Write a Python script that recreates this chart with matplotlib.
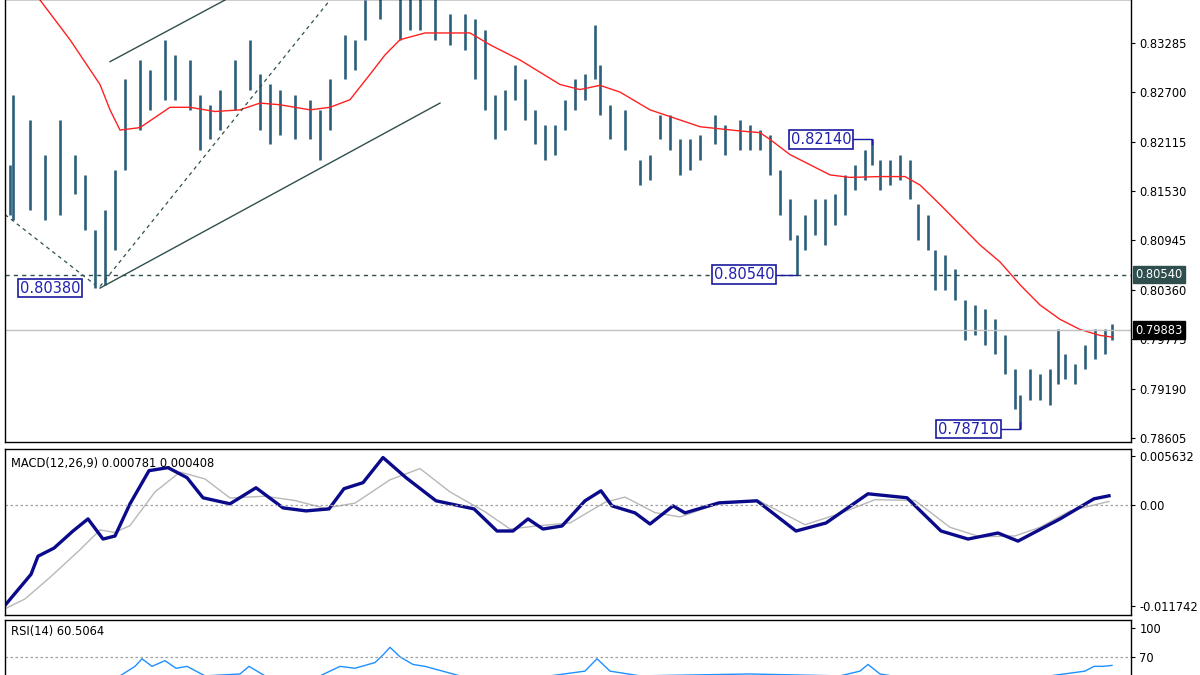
import matplotlib.pyplot as plt

# time axis: one unit = one "slot" (bars are not evenly spaced in the source)
bar_t = [1.0, 1.3, 3.0, 4.5, 6.0, 7.5, 8.5, 9.5, 10.5, 11.5, 12.5, 14.0, 15.0, 16.5, 17.5, 19.0,
         20.0, 21.0, 22.0, 23.5, 25.0, 26.0, 27.0, 28.0, 29.5, 31.0, 32.0, 33.0, 34.5, 35.5,
         36.5, 38.0, 40.0, 41.0, 42.0, 43.5, 45.0, 46.5, 47.5, 48.5, 49.5, 50.5, 51.5, 52.5,
         53.5, 54.5, 55.5, 56.5, 57.5, 58.5, 59.5, 60.0, 61.0, 62.5, 64.0, 65.0, 66.0, 67.0,
         68.0, 69.0, 70.0, 71.5, 72.5, 74.0, 75.0, 76.0, 77.0, 78.0, 79.0, 79.7, 80.5, 81.5,
         82.5, 83.5, 84.5, 85.5, 86.5, 87.2, 88.0, 89.0, 90.0, 91.0, 91.8, 92.8, 93.5, 94.5,
         95.5, 96.5, 97.5, 98.5, 99.5, 100.5, 101.5, 102.0, 103.0, 104.0, 105.0, 105.8, 106.5,
         107.5, 108.5, 109.5, 110.5, 111.2]
bar_high = [0.8184, 0.8267, 0.8237, 0.8196, 0.8237, 0.8196, 0.8172, 0.8107, 0.8131, 0.8178,
            0.8285, 0.8308, 0.8296, 0.8332, 0.8314, 0.8308, 0.8267, 0.8255, 0.8273, 0.8308,
            0.8332, 0.8291, 0.8279, 0.8273, 0.8267, 0.8261, 0.8249, 0.8285, 0.8338, 0.8332,
            0.8379, 0.8390, 0.8385, 0.8390, 0.8385, 0.8385, 0.8362, 0.8362, 0.8356, 0.8344,
            0.8267, 0.8273, 0.8302, 0.8285, 0.8249, 0.8231, 0.8231, 0.8261, 0.8285, 0.8291,
            0.8350, 0.8302, 0.8255, 0.8249, 0.8190, 0.8196, 0.8243, 0.8243, 0.8214, 0.8214,
            0.8219, 0.8243, 0.8231, 0.8237, 0.8231, 0.8225, 0.8219, 0.8178, 0.8143, 0.8101,
            0.8125, 0.8143, 0.8143, 0.8149, 0.8172, 0.8184, 0.8202, 0.8214, 0.8190, 0.8190,
            0.8196, 0.8190, 0.8137, 0.8125, 0.8083, 0.8077, 0.8060, 0.8024, 0.8018, 0.8013,
            0.8001, 0.7983, 0.7942, 0.7912, 0.7942, 0.7936, 0.7942, 0.7989, 0.7960, 0.7948,
            0.7971, 0.7989, 0.7989, 0.7995]
bar_low = [0.8125, 0.8119, 0.8131, 0.8119, 0.8125, 0.8149, 0.8107, 0.8038, 0.8042, 0.8083,
           0.8178, 0.8225, 0.8249, 0.8261, 0.8261, 0.8249, 0.8202, 0.8214, 0.8225, 0.8249,
           0.8273, 0.8225, 0.8208, 0.8219, 0.8214, 0.8214, 0.8190, 0.8225, 0.8285, 0.8296,
           0.8332, 0.8356, 0.8332, 0.8344, 0.8344, 0.8332, 0.8326, 0.8320, 0.8285, 0.8249,
           0.8214, 0.8225, 0.8261, 0.8237, 0.8208, 0.8190, 0.8196, 0.8225, 0.8249, 0.8261,
           0.8285, 0.8243, 0.8214, 0.8202, 0.8160, 0.8166, 0.8214, 0.8202, 0.8172, 0.8178,
           0.8190, 0.8208, 0.8196, 0.8202, 0.8202, 0.8202, 0.8172, 0.8125, 0.8095, 0.8054,
           0.8083, 0.8101, 0.8089, 0.8113, 0.8125, 0.8154, 0.8166, 0.8184, 0.8154, 0.8160,
           0.8166, 0.8143, 0.8095, 0.8083, 0.8036, 0.8036, 0.8024, 0.7977, 0.7983, 0.7971,
           0.7960, 0.7936, 0.7895, 0.7871, 0.7906, 0.7906, 0.7900, 0.7924, 0.7930, 0.7924,
           0.7942, 0.7954, 0.7960, 0.7977]

ma_t = [2, 4, 7, 10, 11, 12, 14, 17, 19, 21.5, 24, 26, 28, 31, 33, 35, 37, 38.5, 40, 42.5,
        47, 49, 52, 56, 58, 60, 62, 65, 67, 70, 74, 76, 77, 79, 81, 83, 85, 88, 90.5, 92, 94,
        96, 98, 100, 102, 104, 106, 108, 110, 111.2]
ma_val = [0.8426, 0.8379, 0.8332, 0.8279, 0.8249, 0.8225, 0.8228, 0.8252, 0.8252, 0.8247,
          0.8249, 0.8257, 0.8255, 0.8249, 0.8252, 0.8261, 0.8291, 0.8314, 0.8332, 0.8340,
          0.8340, 0.8326, 0.8308, 0.8279, 0.8273, 0.8278, 0.8270, 0.8249, 0.8241, 0.8229,
          0.8224, 0.8222, 0.8214, 0.8196, 0.8184, 0.8172, 0.8169, 0.8170, 0.8170, 0.8160,
          0.8137, 0.8113, 0.8089, 0.8069, 0.8042, 0.8018, 0.8001, 0.7989, 0.7982, 0.7980]

macd_t = [0.4, 1.5, 3.1, 3.8, 5.4, 7.3, 8.8, 10.3, 11.5, 13.0, 14.9, 16.8, 18.7, 20.3, 23.0,
          25.6, 28.3, 30.6, 32.9, 34.4, 36.3, 38.3, 40.6, 43.6, 47.4, 49.7, 51.3, 52.8, 54.3,
          56.2, 58.5, 60.1, 61.2, 63.5, 65.0, 67.3, 68.5, 71.9, 75.7, 79.6, 82.6, 86.8, 90.7,
          94.1, 96.8, 99.8, 101.8, 106.0, 109.4, 110.9]
macd_main = [-11.78, -10.26, -8.05, -5.95, -5.01, -3.03, -1.63, -3.96, -3.61, 0.12, 3.96,
             4.31, 3.15, 0.82, 0.12, 1.98, -0.35, -0.70, -0.47, 1.87, 2.57, 5.48, 3.15, 0.47,
             -0.47, -3.03, -3.03, -1.63, -2.80, -2.45, 0.47, 1.63, -0.12, -0.93, -2.22, -0.12,
             -0.93, 0.23, 0.47, -3.03, -2.10, 1.28, 0.82, -3.03, -3.96, -3.26, -4.20, -1.63,
             0.70, 1.05]
sig_t = [0.4, 2.5, 5.0, 8.0, 10.0, 11.5, 13.0, 15.5, 18.0, 20.5, 23.0, 26.5, 29.5, 32.5,
         35.5, 39.0, 42.0, 45.0, 48.5, 51.0, 54.0, 57.0, 60.5, 62.5, 65.5, 68.0, 72.0, 76.0,
         80.5, 84.0, 87.5, 91.5, 95.0, 98.0, 101.5, 104.0, 107.0, 110.9]
macd_signal = [-12.1, -10.9, -8.4, -5.2, -2.9, -3.2, -2.4, 1.5, 3.8, 3.0, 0.8, 1.0, 0.5,
               -0.4, 0.2, 2.9, 4.2, 1.5, -0.8, -2.8, -2.4, -2.1, 0.3, 0.9, -0.9, -1.4, 0.2,
               0.4, -2.3, -1.0, 0.6, 0.5, -2.6, -3.7, -3.6, -2.6, -0.7, 0.4]

rsi_t = [0, 5, 9, 12, 13.5, 14.2, 15.2, 16.5, 17.6, 18.7, 20.5, 24.0, 24.9, 26.5, 31.0,
         33.0, 34.0, 35.5, 37.5, 38.3, 39.0, 40.0, 41.3, 42.5, 46.0, 55.0, 58.5, 59.7,
         61.0, 64.0, 75.0, 84.0, 86.0, 86.8, 88.0, 95.0, 105.0, 108.5, 109.4, 110.3, 111.2]
rsi_val = [35, 45, 30, 50, 60, 68, 60, 66, 58, 60, 50, 52, 60, 50, 45, 55, 60, 58, 64, 72,
           80, 70, 62, 60, 50, 50, 55, 68, 55, 50, 52, 50, 55, 62, 52, 40, 50, 55, 60, 60, 61]

price_ticks = [0.83285, 0.82700, 0.82115, 0.81530, 0.80945, 0.80360, 0.79775, 0.79190, 0.78605]
level_line = 0.80540
last_price = 0.79883
# (value, bar time, box left time, connector start time, connector end price)
swing_labels = [(0.80380, 9.5, 1.7, 9.5, 0.80380), (0.80540, 79.7, 71.1, 77.5, 0.80540),
                (0.82140, 87.2, 78.8, 85.2, 0.82080), (0.78710, 102.0, 93.5, 99.9, 0.78800)]

BAR = "#2c5f7c"
FS = 8.3
fig = plt.figure(figsize=(12, 6.75), dpi=100)


def px_axes(x0, y0, x1, y1):
    return fig.add_axes((x0 / 1200, 1 - y1 / 675, (x1 - x0) / 1200, (y1 - y0) / 675))


def style(ax):
    ax.set_xlim(0.5, 113.1)
    ax.set_xticks([])
    ax.yaxis.tick_right()
    ax.tick_params(axis="y", labelsize=FS, length=3, pad=3)
    for s in ax.spines.values():
        s.set_color("black")
        s.set_linewidth(1.0)


# price panel
ax = px_axes(5, -1, 1131, 442)
style(ax)
ax.set_ylim(0.78558, 0.83802)
ax.vlines(bar_t, bar_low, bar_high, color=BAR, lw=1.9)
ax.plot(ma_t, ma_val, color="#ff2020", lw=1.0)
ax.axhline(level_line, color="#2f4f4f", lw=1.0, ls=(0, (3, 3)))
ax.axhline(last_price, color="#c0c0c0", lw=1.0)
ax.plot([11, 22.5], [0.8306, 0.8379], color="#2f4f4f", lw=1.0)
ax.plot([10, 44], [0.8038, 0.8257], color="#2f4f4f", lw=1.0)
ax.plot([0.5, 9.5], [0.8125, 0.8042], color="#2f4f4f", lw=0.9, ls=(0, (3, 3)))
ax.plot([10, 33], [0.8040, 0.8379], color="#2f4f4f", lw=0.9, ls=(0, (3, 3)))
ax.set_yticks(price_ticks, [f"{v:.5f}" for v in price_ticks])
for val, t_bar, t_box, t_join, end in swing_labels:
    ax.plot([t_join, t_bar, t_bar], [val, val, end], color="#1a1aa0", lw=1.0)
    ax.text(t_box + 0.3, val, f"{val:.5f}", fontsize=10.5, color="#2020b0", va="center", ha="left",
            bbox=dict(boxstyle="square,pad=0.12", fc="white", ec="#1a1aa0", lw=1.2), zorder=5)
for val, bg in [(level_line, "#2f4f4f"), (last_price, "black")]:
    ax.text(1.004, val, f"{val:.5f}", transform=ax.get_yaxis_transform(), fontsize=FS,
            color="white", va="center", ha="left",
            bbox=dict(boxstyle="square,pad=0.2", fc=bg, ec=bg))

# MACD panel
ax2 = px_axes(5, 449, 1131, 615)
style(ax2)
ax2.set_ylim(-12.76, 6.47)
ax2.plot(sig_t, macd_signal, color="#b8b8b8", lw=1.0)
ax2.plot(macd_t, macd_main, color="#0a0a8a", lw=2.4)
ax2.axhline(0, color="#a0a0a0", lw=0.9, ls=(0, (2, 2)))
ax2.set_yticks([5.632, 0, -11.742], ["0.005632", "0.00", "-0.011742"])
ax2.text(0.005, 0.95, "MACD(12,26,9) 0.000781 0.000408", transform=ax2.transAxes,
         fontsize=FS, va="top")

# RSI panel
ax3 = px_axes(5, 620, 1131, 725)
style(ax3)
ax3.set_ylim(-1.6, 108.7)
ax3.plot(rsi_t, rsi_val, color="#1e90ff", lw=1.0)
ax3.axhline(70, color="#a0a0a0", lw=0.9, ls=(0, (2, 2)))
ax3.set_yticks([100, 70], ["100", "70"])
ax3.text(0.005, 0.95, "RSI(14) 60.5064", transform=ax3.transAxes, fontsize=FS, va="top")

fig.savefig("out.png", dpi=100)
